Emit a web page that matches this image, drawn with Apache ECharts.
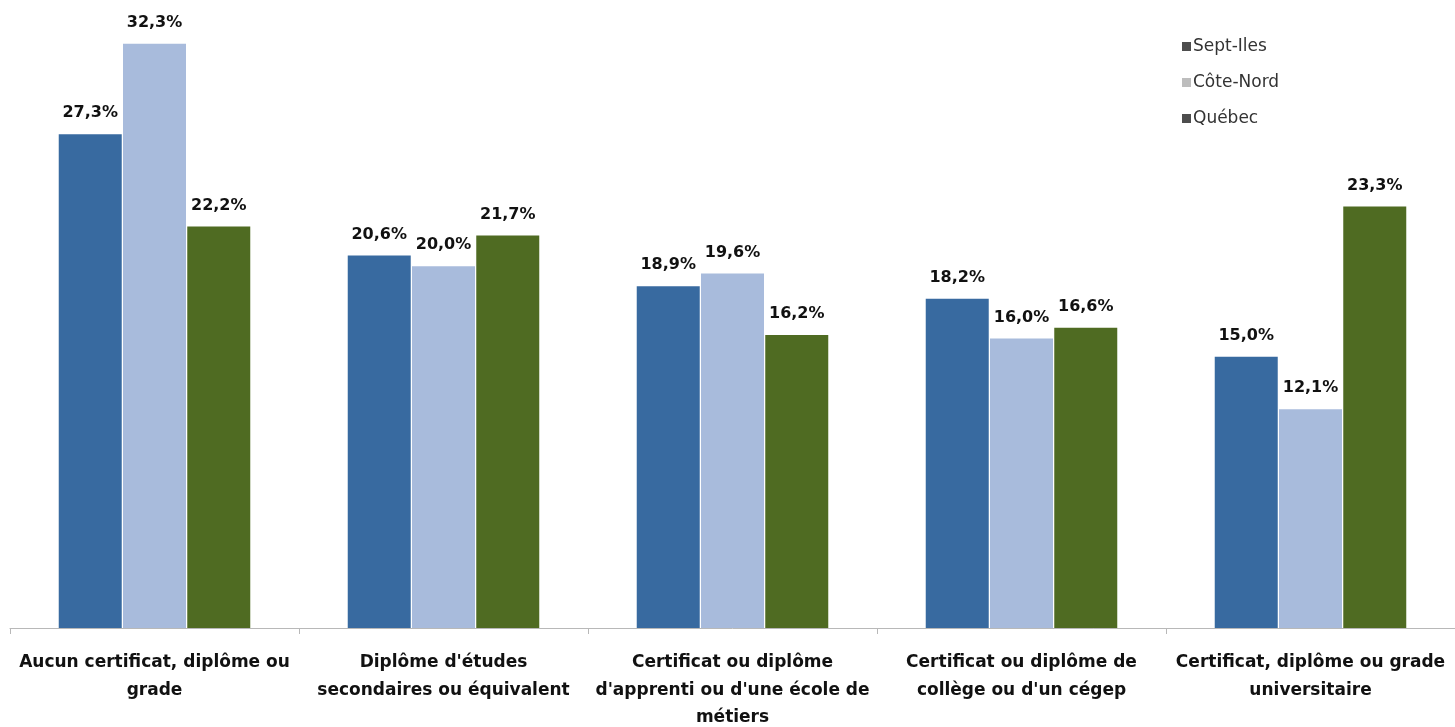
<!DOCTYPE html>
<html>
<head>
<meta charset="utf-8">
<script src="https://cdn.jsdelivr.net/npm/echarts@6/dist/echarts.min.js"></script>
<style>
  html, body { margin: 0; padding: 0; background: #fff; }
  #chart { width: 1455px; height: 727px; }
</style>
</head>
<body>
<div id="chart"></div>
<script>
const categories = [
  "Aucun certificat, diplôme ou\ngrade",
  "Diplôme d'études\nsecondaires ou équivalent",
  "Certificat ou diplôme\nd'apprenti ou d'une école de\nmétiers",
  "Certificat ou diplôme de\ncollège ou d'un cégep",
  "Certificat, diplôme ou grade\nuniversitaire"
];
const septIles = [27.3, 20.6, 18.9, 18.2, 15.0];
const coteNord = [32.3, 20.0, 19.6, 16.0, 12.1];
const quebec = [22.2, 21.7, 16.2, 16.6, 23.3];

const labelFont = "'DejaVu Sans', sans-serif";
const fmt = (p) => p.value.toFixed(1).replace(".", ",") + "%";

const chart = echarts.init(document.getElementById("chart"));

const makeSeries = (name, data, color) => ({
  name: name,
  type: "bar",
  data: data,
  barWidth: 63,
  barGap: "2%",
  itemStyle: { color: color },
  label: {
    show: true,
    position: "top",
    distance: 13,
    formatter: fmt,
    fontFamily: labelFont,
    fontWeight: "bold",
    fontSize: 16,
    color: "#111",
  },
});

chart.setOption({
  animation: false,
  grid: { left: 10, right: 0, top: 13, bottom: 99, containLabel: false, outerBoundsMode: "none" },
  legend: {
    orient: "vertical",
    left: 1177,
    top: 33,
    itemGap: 19,
    itemWidth: 9,
    itemHeight: 9,
    icon: "rect",
    textStyle: { fontFamily: labelFont, fontSize: 17, color: "#333", padding: [0, 0, 0, -3] },
    data: [
      { name: "Sept-Iles", itemStyle: { color: "#4d4d4d" } },
      { name: "Côte-Nord", itemStyle: { color: "#bdbdbd" } },
      { name: "Québec", itemStyle: { color: "#4d4d4d" } },
    ],
  },
  xAxis: {
    type: "category",
    data: categories,
    axisLine: { lineStyle: { color: "#b8b8b8" } },
    axisTick: { show: true, length: 6, lineStyle: { color: "#b8b8b8" } },
    axisLabel: {
      interval: 0,
      margin: 21,
      fontFamily: labelFont,
      fontWeight: "bold",
      fontSize: 17,
      lineHeight: 27.5,
      color: "#111",
    },
  },
  yAxis: {
    type: "value",
    min: 0,
    max: 34,
    show: false,
  },
  series: [
    makeSeries("Sept-Iles", septIles, "#386aa0"),
    makeSeries("Côte-Nord", coteNord, "#a8bbdc"),
    makeSeries("Québec", quebec, "#4f6b22"),
  ],
});
</script>
</body>
</html>
